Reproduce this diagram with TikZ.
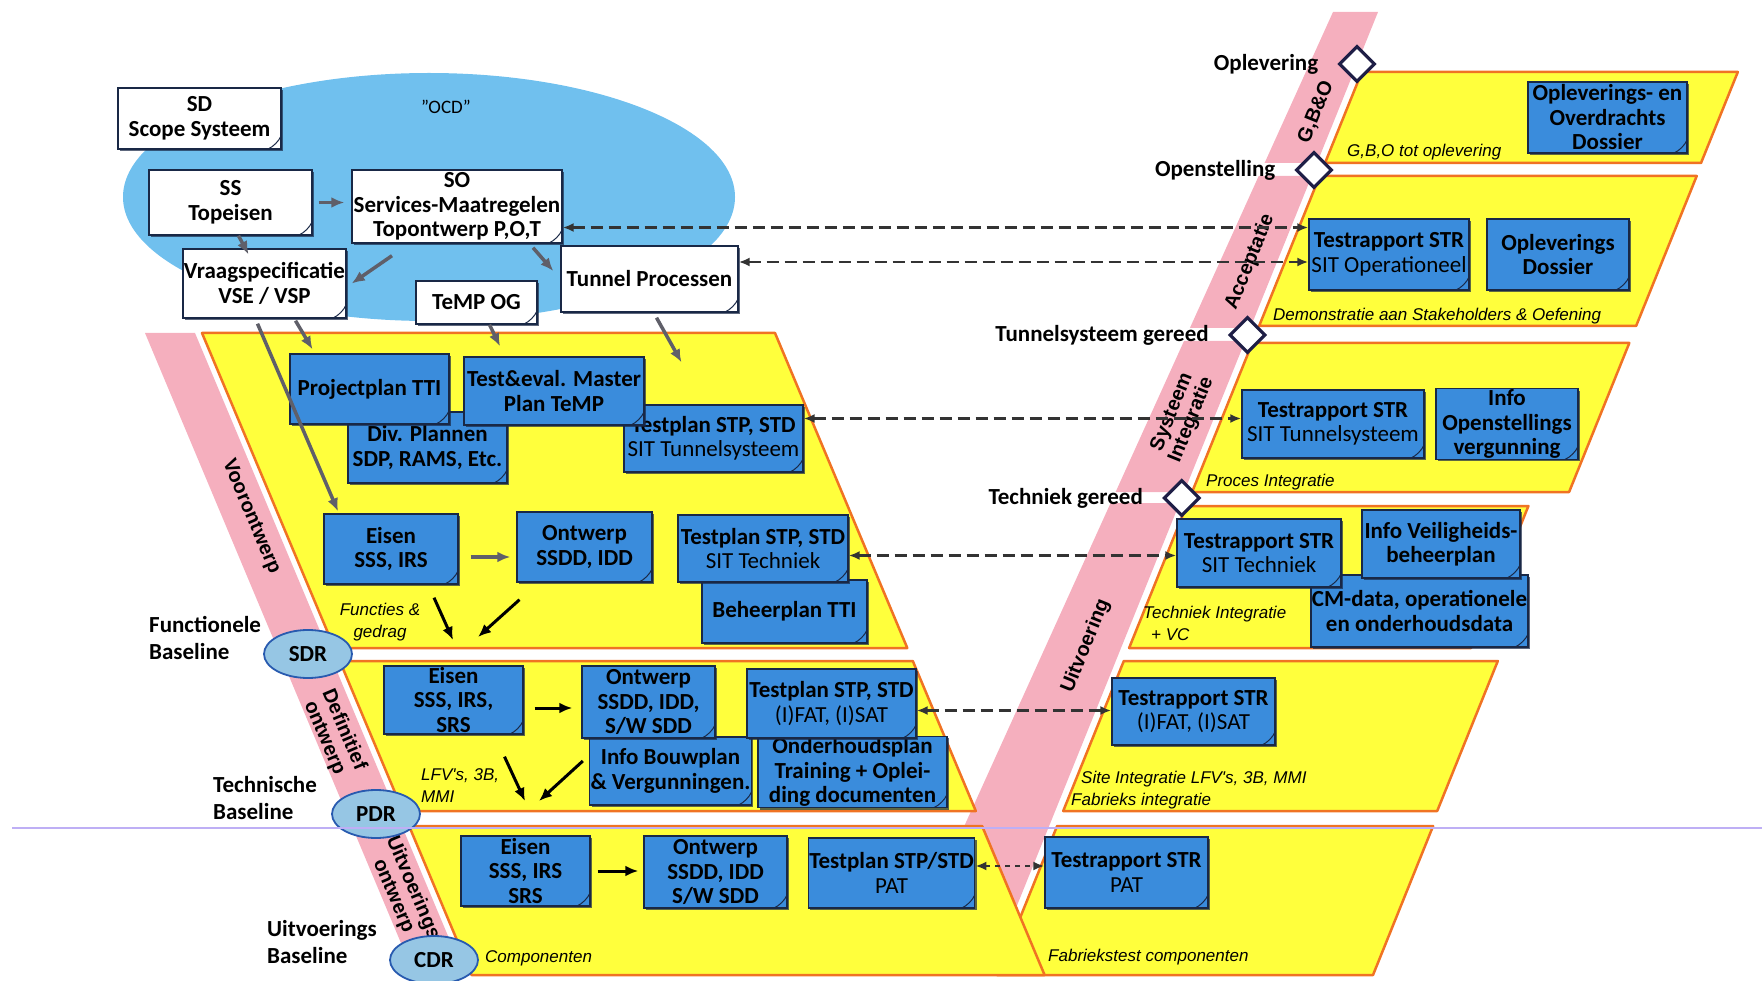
\documentclass[tikz,border=0pt]{standalone}
\usepackage{fontspec}
\setmainfont{Carlito}
\newfontfamily\arialfont{Liberation Sans}
\usetikzlibrary{shapes, arrows.meta, positioning, shadows}

\definecolor{docblue}{RGB}{58,140,220}
\definecolor{docline}{RGB}{25,40,70}
\definecolor{ocdblue}{RGB}{112,192,238}
\definecolor{phaseyellow}{RGB}{255,255,60}
\definecolor{phaseorange}{RGB}{240,115,35}
\definecolor{bandpink}{RGB}{245,175,190}
\definecolor{reviewfill}{RGB}{150,198,228}
\definecolor{reviewline}{RGB}{40,90,175}
\definecolor{milestone}{RGB}{30,30,70}
\definecolor{flowgray}{RGB}{95,95,105}
\definecolor{baselinepurple}{RGB}{190,175,245}

\tikzset{
  fold/.style={path picture={
      \draw[docline, line width=1pt]
        ([xshift=-13pt]path picture bounding box.south east)
        .. controls +(5pt,2pt) and +(-2pt,-5pt) ..
        ([yshift=13pt]path picture bounding box.south east);}},
  doc/.style={draw=docline, fill=docblue, line width=1.4pt, align=center,
      inner sep=1pt, font=\fontsize{23}{24.5}\selectfont\bfseries, fold,
      drop shadow={shadow xshift=2pt, shadow yshift=-2pt, fill=docline, opacity=0.7}},
  wdoc/.style={doc, fill=white},
  phase/.style={fill=phaseyellow, draw=phaseorange, line width=2.5pt, line join=round},
  band/.style={fill=bandpink},
  review/.style={ellipse, draw=reviewline, fill=reviewfill, line width=1.8pt,
      minimum width=88pt, minimum height=48pt, inner sep=0pt,
      font=\fontsize{23}{24}\selectfont\bfseries},
  gate/.style={diamond, draw=milestone, fill=white, line width=3.2pt,
      minimum width=36pt, minimum height=36pt, inner sep=0pt},
  gatelabel/.style={font=\fontsize{23}{24}\selectfont\bfseries, inner sep=1pt},
  baselabel/.style={align=left, font=\fontsize{23}{27}\selectfont\bfseries, inner sep=0pt, anchor=west},
  bandlabel/.style={align=center, font=\arialfont\fontsize{20}{21}\selectfont\bfseries, inner sep=0pt},
  note/.style={align=left, font=\arialfont\fontsize{17}{22}\selectfont\itshape, inner sep=0pt, anchor=west},
  feed/.style={-{Latex[length=13pt,width=11pt]}, flowgray, line width=3.5pt},
  flow/.style={-{Latex[length=13pt,width=11pt]}, black, line width=3pt},
  trace/.style={{Latex[length=11pt,width=9pt]}-{Latex[length=11pt,width=9pt]}, black!80,
      line width=2.5pt, dash pattern=on 12pt off 6pt},
}

\begin{document}
\begin{tikzpicture}[x=1pt, y=-1pt]
    \useasboundingbox (0,0) rectangle (1762,981);

    % OCD cloud
    \fill[ocdblue] (429,197) ellipse [x radius=306, y radius=124];
    \node[font=\fontsize{19}{20}\selectfont] (ocd) at (446,107) {''OCD''};

    % phase bands
    \fill[band] (145,333) -- (195,333) -- (456,955) -- (406,955) -- cycle;
    \fill[band] (1333,12) -- (1378,12) -- (1317,163) -- (1264.6,163) -- cycle;
    \fill[band] (1258.7,176) -- (1311.7,176) -- (1250.3,328) -- (1189.9,328) -- cycle;
    \fill[band] (1184,341) -- (1245.1,341) -- (1184.1,492) -- (1115.6,492) -- cycle;
    \fill[band] (1110.6,503) -- (1179.6,503) -- (995,960) -- (903.6,960) -- cycle;

    \node[bandlabel, rotate=-67] (voor) at (251,517) {Voorontwerp};
    \node[bandlabel, rotate=-67] (defin) at (334,734) {Definitief\\ontwerp};
    \node[bandlabel, rotate=-67] (uitvo) at (403,892) {Uitvoerings\\ontwerp};
    \node[bandlabel, rotate=68] (gbo) at (1316,112) {G,B\&O};
    \node[bandlabel, rotate=68] (accept) at (1250,262) {Acceptatie};
    \node[bandlabel, rotate=68] (sysint) at (1182,416) {Systeem\\Integratie};
    \node[bandlabel, rotate=68] (uitv) at (1086,646) {Uitvoering};

    % right side levels
    \draw[phase] (1361.8,72) -- (1737.8,72) -- (1701,163) -- (1325,163) -- cycle;
    \draw[phase] (1319.7,176) -- (1696.7,176) -- (1636.1,326) -- (1259.1,326) -- cycle;
    \draw[phase] (1252.3,343) -- (1629.3,343) -- (1569.1,492) -- (1192.1,492) -- cycle;
    \draw[phase] (1186.4,506) -- (1528.4,506) -- (1471.1,648) -- (1129.1,648) -- cycle;
    \draw[phase] (1123.8,661) -- (1497.8,661) -- (1437.2,811) -- (1063.2,811) -- cycle;
    \draw[phase] (1057.1,826) -- (1433.1,826) -- (1373,975) -- (997,975) -- cycle;

    % left side levels
    \draw[phase] (202,333) -- (775,333) -- (907.3,648) -- (334.3,648) -- cycle;
    \draw[phase] (339.8,661) -- (912.8,661) -- (975.8,811) -- (402.8,811) -- cycle;
    \draw[phase] (409.1,826) -- (982.1,826) -- (1044.6,975) -- (471.6,975) -- cycle;

    % reviews and baselines
    \node[review] (sdr) at (308,654) {SDR};
    \node[review] (pdr) at (376,814) {PDR};
    \node[review] (cdr) at (434,960) {CDR};
    \node[baselabel] (funcbl) at (149,638) {Functionele\\Baseline};
    \node[baselabel] (techbl) at (213,798) {Technische\\Baseline};
    \node[baselabel] (uitvbl) at (267,942) {Uitvoerings\\Baseline};

    % milestones
    \node[gate] (oplev) at (1357,64) {};
    \node[gate] (openst) at (1314,170) {};
    \node[gate] (tunsys) at (1247.5,335) {};
    \node[gate] (techgr) at (1181.7,498) {};
    \node[gatelabel, left=18pt of oplev] (oplevtxt) {Oplevering};
    \node[gatelabel, left=18pt of openst] (opensttxt) {Openstelling};
    \node[gatelabel, left=18pt of tunsys] (tunsystxt) {Tunnelsysteem gereed};
    \node[gatelabel, left=18pt of techgr] (techgrtxt) {Techniek gereed};

    % top documents
    \node[wdoc, minimum width=163pt, minimum height=61pt] (sd) at (199.5,118.5) {SD\\Scope Systeem};
    \node[wdoc, minimum width=163pt, minimum height=65pt] (ss) at (230.5,202.5) {SS\\Topeisen};
    \node[wdoc, minimum width=210pt, minimum height=73pt] (so) at (457,206.5) {SO\\Services-Maatregelen\\Topontwerp P,O,T};
    \node[wdoc, minimum width=163pt, minimum height=69pt] (vraag) at (264.5,283.5) {Vraagspecificatie\\VSE / VSP};
    \node[wdoc, minimum width=121pt, minimum height=43pt] (tempog) at (476.5,302.5) {TeMP OG};
    \node[wdoc, minimum width=177pt, minimum height=66pt] (tunnel) at (649.5,279) {Tunnel Processen};

    % left documents
    \node[doc, minimum width=159pt, minimum height=71pt] (divplan) at (427.5,447.5) {Div. Plannen\\SDP, RAMS, Etc.};
    \node[doc, minimum width=159pt, minimum height=70pt] (projplan) at (369.5,389) {Projectplan TTI};
    \node[doc, minimum width=179pt, minimum height=67pt] (tpsys) at (713.5,438.5) {Testplan STP, STD\\{\mdseries SIT Tunnelsysteem}};
    \node[doc, minimum width=180pt, minimum height=68pt] (temp) at (554,391) {Test\&eval. Master\\Plan TeMP};
    \node[doc, minimum width=134pt, minimum height=70pt] (eisen1) at (391,549) {Eisen\\SSS, IRS};
    \node[doc, minimum width=135pt, minimum height=70pt] (ontw1) at (584.5,547) {Ontwerp\\SSDD, IDD};
    \node[doc, minimum width=165pt, minimum height=63pt] (beheer) at (784.5,611.5) {Beheerplan TTI};
    \node[doc, minimum width=170pt, minimum height=67pt] (tptech) at (763,548.5) {Testplan STP, STD\\{\mdseries SIT Techniek}};

    \node[doc, minimum width=139pt, minimum height=68pt] (eisen2) at (453.5,700) {Eisen\\SSS, IRS,\\SRS};
    \node[doc, minimum width=161pt, minimum height=68pt] (bouw) at (670.5,771) {Info Bouwplan\\\& Vergunningen.};
    \node[doc, minimum width=133pt, minimum height=72pt] (ontw2) at (648.5,702) {Ontwerp\\SSDD, IDD,\\S/W SDD};
    \node[doc, minimum width=189pt, minimum height=70pt] (onderh) at (852.5,772) {Onderhoudsplan\\Training + Oplei-\\ding documenten};
    \node[doc, minimum width=169pt, minimum height=69pt] (tpfat) at (831.5,703.5) {Testplan STP, STD\\{\mdseries (I)FAT, (I)SAT}};

    \node[doc, minimum width=129pt, minimum height=70pt] (eisen3) at (525.5,871) {Eisen\\SSS, IRS\\SRS};
    \node[doc, minimum width=143pt, minimum height=72pt] (ontw3) at (715.5,872) {Ontwerp\\SSDD, IDD\\S/W SDD};
    \node[doc, minimum width=165pt, minimum height=70pt] (tppat) at (891.5,873) {Testplan STP/STD\\{\mdseries PAT}};

    % right documents
    \node[doc, minimum width=159pt, minimum height=71pt] (opldos) at (1607.5,117.5) {Opleverings- en\\Overdrachts\\Dossier};
    \node[doc, minimum width=160pt, minimum height=71pt] (tropr) at (1389,254.5) {Testrapport STR\\{\mdseries SIT Operationeel}};
    \node[doc, minimum width=142pt, minimum height=71pt] (opld) at (1558,254.5) {Opleverings\\Dossier};
    \node[doc, minimum width=182pt, minimum height=68pt] (trsys) at (1333,424) {Testrapport STR\\{\mdseries SIT Tunnelsysteem}};
    \node[doc, minimum width=142pt, minimum height=68pt] (infoopen) at (1507,424) {Info\\Openstellings\\vergunning};
    \node[doc, minimum width=217pt, minimum height=72pt] (cmdata) at (1419.5,611) {CM-data, operationele\\en onderhoudsdata};
    \node[doc, minimum width=164pt, minimum height=68pt] (trtech) at (1259,553) {Testrapport STR\\{\mdseries SIT Techniek}};
    \node[doc, minimum width=158pt, minimum height=68pt] (infoveil) at (1441,544) {Info Veiligheids-\\beheerplan};
    \node[doc, minimum width=163pt, minimum height=67pt] (trfat) at (1193.5,711.5) {Testrapport STR\\{\mdseries (I)FAT, (I)SAT}};
    \node[doc, minimum width=163pt, minimum height=71pt] (trpat) at (1126.5,872.5) {Testrapport STR\\{\mdseries PAT}};

    % notes
    \node[note, align=center, anchor=center] (functies) at (380,622) {Functies \&\\gedrag};
    \node[note] (lfvnote) at (421,786) {LFV's, 3B,\\MMI};
    \node[note] (compnote) at (485,958) {Componenten};
    \node[note] (gbonote) at (1347,152) {G,B,O tot oplevering};
    \node[note] (demonote) at (1273,316) {Demonstratie aan Stakeholders \& Oefening};
    \node[note] (procnote) at (1206,482) {Proces Integratie};
    \node[note] (technote) at (1143,623) {Techniek Integratie\\\hspace*{8pt}+ VC};
    \node[note] (sitenote) at (1071,790) {\hspace*{10pt}Site Integratie LFV's, 3B, MMI\\Fabrieks integratie};
    \node[note] (fabnote) at (1048,957) {Fabriekstest componenten};

    % flows
    \draw[feed, shorten <=6pt, shorten >=7pt] (ss.east) -- (ss.east -| so.west);
    \draw[feed] ([xshift=8pt]ss.south) -- ([xshift=-16pt,yshift=-6pt]vraag.north);
    \draw[feed] ([xshift=-65pt,yshift=-12pt]so.south) -- ([xshift=5pt]vraag.east);
    \draw[feed] ([xshift=76pt,yshift=-4pt]so.south) -- ([xshift=-7pt,yshift=8pt]tunnel.west);
    \draw[feed] ([xshift=31pt,yshift=-2pt]vraag.south) -- ([xshift=-57pt,yshift=4pt]projplan.north);
    \draw[feed] ([xshift=-7pt,yshift=-5pt]vraag.south) -- ([xshift=-53pt,yshift=2pt]eisen1.north);
    \draw[feed] ([xshift=13pt]tempog.south) -- ([xshift=-54pt,yshift=10pt]temp.north);
    \draw[feed] ([xshift=7pt,yshift=-5pt]tunnel.south) -- ([xshift=-32pt,yshift=42pt]tpsys.north);
    \draw[feed, shorten <=12pt, shorten >=6pt] ([yshift=-8pt]eisen1.east) -- ([yshift=-8pt]eisen1.east -| ontw1.west);

    \coordinate (fg) at (466,640);
    \draw[flow] ([xshift=43pt,yshift=-13pt]eisen1.south) -- ([xshift=-13pt]fg);
    \draw[flow] ([xshift=-65pt,yshift=-17pt]ontw1.south) -- ([xshift=12pt,yshift=3pt]fg);
    \draw[flow, shorten <=11pt, shorten >=9pt] ([yshift=-8pt]eisen2.east) -- ([yshift=-8pt]eisen2.east -| ontw2.west);
    \coordinate (lfv) at (532,801);
    \draw[flow] ([xshift=51pt,yshift=-22pt]eisen2.south) -- ([xshift=-7pt]lfv);
    \draw[flow] ([xshift=-6pt,yshift=10pt]bouw.west) -- ([xshift=7pt]lfv);
    \draw[flow, shorten <=7pt, shorten >=5pt] (eisen3.east) -- (eisen3.east -| ontw3.west);

    % verification traces
    \draw[trace] ([yshift=-21pt]so.east) -- ([yshift=-21pt]so.east -| tropr.west);
    \draw[trace] ([yshift=17pt]tunnel.east) -- ([yshift=17pt]tunnel.east -| tropr.west);
    \draw[trace] ([yshift=20pt]tpsys.east) -- ([yshift=20pt]tpsys.east -| trsys.west);
    \draw[trace] ([yshift=-7pt]tptech.east) -- ([yshift=-7pt]tptech.east -| trtech.west);
    \draw[trace] ([yshift=-7pt]tpfat.east) -- ([yshift=-7pt]tpfat.east -| trfat.west);
    \draw[trace, dash pattern=on 5pt off 5pt] ([yshift=7pt]tppat.east) -- ([yshift=7pt]tppat.east -| trpat.west);

    \draw[baselinepurple, line width=1.2pt] (12,828) -- (1762,828);
\end{tikzpicture}
\end{document}
